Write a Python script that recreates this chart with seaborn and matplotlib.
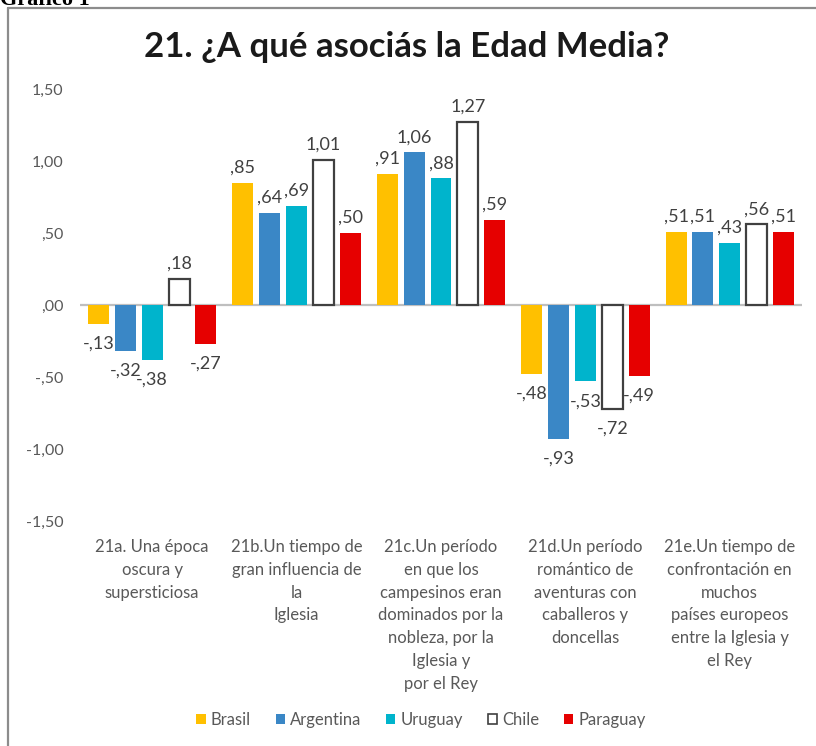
import pandas as pd
import matplotlib.pyplot as plt
import seaborn as sns
from matplotlib.lines import Line2D

# Datos del gráfico
items = [
    "21a. Una época\noscura y\nsupersticiosa",
    "21b.Un tiempo de\ngran influencia de\nla\nIglesia",
    "21c.Un período\nen que los\ncampesinos eran\ndominados por la\nnobleza, por la\nIglesia y\npor el Rey",
    "21d.Un período\nromántico de\naventuras con\ncaballeros y\ndoncellas",
    "21e.Un tiempo de\nconfrontación en\nmuchos\npaíses europeos\nentre la Iglesia y\nel Rey",
]
paises = ["Brasil", "Argentina", "Uruguay", "Chile", "Paraguay"]
brasil = [-0.13, 0.85, 0.91, -0.48, 0.51]
argentina = [-0.32, 0.64, 1.06, -0.93, 0.51]
uruguay = [-0.38, 0.69, 0.88, -0.53, 0.43]
chile = [0.18, 1.01, 1.27, -0.72, 0.56]
paraguay = [-0.27, 0.50, 0.59, -0.49, 0.51]
y_ticks = [1.5, 1.0, 0.5, 0.0, -0.5, -1.0, -1.5]

colores = {"Brasil": "#FFC000", "Argentina": "#3A87C6", "Uruguay": "#00B4CC",
           "Chile": "#FFFFFF", "Paraguay": "#E60000"}

series = [brasil, argentina, uruguay, chile, paraguay]
rows = []
for pais, vals in zip(paises, series):
    for item, v in zip(items, vals):
        rows.append({"item": item, "pais": pais, "valor": v})
df = pd.DataFrame(rows)


def fmt(v):
    s = f"{abs(v):.2f}".replace(".", ",")
    if s.startswith("0"):
        s = s[1:]
    return ("-" if v < 0 else "") + s


sns.set_theme(style="white")
plt.rcParams["font.family"] = ["Lato", "DejaVu Sans"]

fig = plt.figure(figsize=(8.16, 7.46), dpi=100)
ax = fig.add_axes([80 / 816, 1 - 521 / 746, 722 / 816, 432 / 746])

sns.barplot(data=df, x="item", y="valor", hue="pais", order=items, hue_order=paises,
            palette=colores, width=0.93, gap=0.22, saturation=1, ax=ax,
            linewidth=0, errorbar=None)

# Chile: barras huecas con borde oscuro
for p in ax.containers[3]:
    p.set_edgecolor("#404040")
    p.set_linewidth(1.6)

# etiquetas de valores
for cont in ax.containers:
    for p in cont:
        v = p.get_height()
        x = p.get_x() + p.get_width() / 2
        if v >= 0:
            ax.annotate(fmt(v), (x, v), xytext=(0, 7), textcoords="offset pixels",
                        ha="center", va="bottom", fontsize=13, color="#404040")
        else:
            ax.annotate(fmt(v), (x, v), xytext=(0, -12), textcoords="offset pixels",
                        ha="center", va="top", fontsize=13, color="#404040")

ax.axhline(0, color="#BFBFBF", lw=1.6, zorder=0.5)
ax.set_xlim(-0.5, 4.5)
ax.set_ylim(-1.5, 1.5)
ax.set_yticks(y_ticks)
ax.set_yticklabels([fmt(t) for t in y_ticks])
ax.tick_params(axis="y", length=0, pad=12, labelsize=11.5, labelcolor="#595959")
ax.tick_params(axis="x", length=0, pad=13, labelsize=12, labelcolor="#595959")
for lbl in ax.get_xticklabels():
    lbl.set_linespacing(1.52)
ax.set_xlabel("")
ax.set_ylabel("")
sns.despine(ax=ax, left=True, bottom=True)

# leyenda
handles, labels = ax.get_legend_handles_labels()
ax.legend_.remove()
for h, l in zip(handles, labels):
    if l == "Chile":
        h.set_edgecolor("#404040")
        h.set_linewidth(1.2)
fig.legend(handles, labels, loc="center", bbox_to_anchor=(421 / 816, 1 - 720 / 746),
           ncol=5, frameon=False, fontsize=12, handlelength=0.55, handleheight=0.55,
           handletextpad=0.3, columnspacing=1.5, labelcolor="#595959")

fig.text(407 / 816, 1 - 47 / 746, "21. ¿A qué asociás la Edad Media?", ha="center",
         va="center", fontsize=25, fontweight="bold", color="#1a1a1a")

# marco y rótulo recortado
fig.add_artist(Line2D([8 / 816, 1], [1 - 8 / 746, 1 - 8 / 746], transform=fig.transFigure,
                      color="#8c8c8c", lw=1.6))
fig.add_artist(Line2D([8 / 816, 8 / 816], [0, 1 - 8 / 746], transform=fig.transFigure,
                      color="#8c8c8c", lw=1.6))
fig.text(0.0, 1 - 5 / 746, "Gráfico 1", ha="left", va="baseline", fontsize=16,
         fontweight="bold", family="Liberation Serif", color="black")

fig.savefig("out.png", dpi=100)
